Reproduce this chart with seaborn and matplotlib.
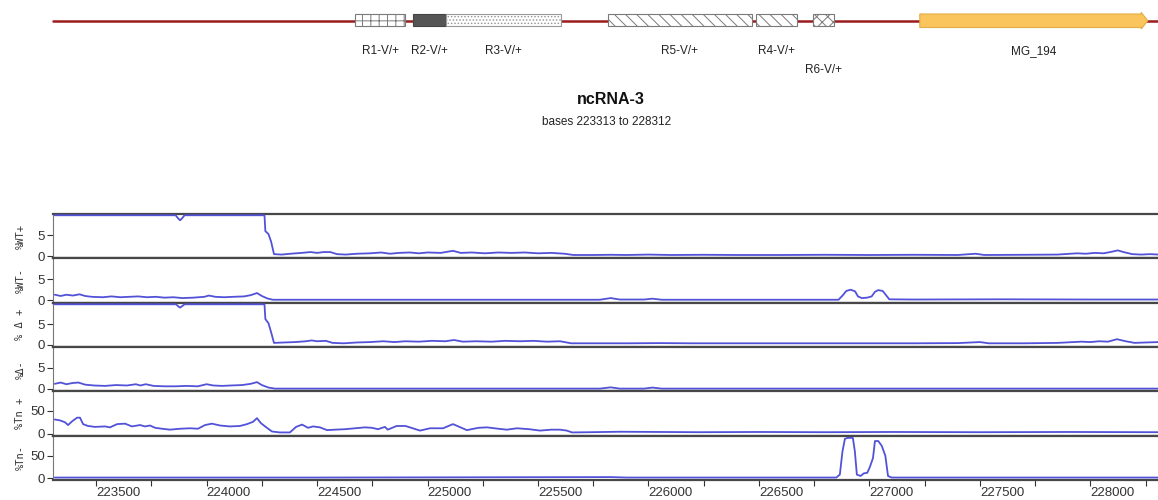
import numpy as np
import pandas as pd
import matplotlib
matplotlib.use("Agg")
import matplotlib.pyplot as plt
import matplotlib.patches as mpatches
import seaborn as sns

# genome window
x_start, x_end = 223313, 228312

# features on the map (start, end in bases)
feat_names = ["R1-V/+", "R2-V/+", "R3-V/+", "R5-V/+", "R4-V/+", "R6-V/+"]
feat_start = [224672, 224934, 225083, 225816, 226486, 226744]
feat_end = [224898, 225083, 225604, 226468, 226672, 226839]
gene_name = "MG_194"
gene_start, gene_end = 227228, 228260

# %WT+
wtp_pos = [223313, 223860, 223872, 223880, 223888, 223900, 224262, 224266, 224280, 224292,
           224305, 224340, 224380, 224430, 224470, 224500, 224530, 224560, 224590, 224630,
           224680, 224740, 224790, 224830, 224870, 224920, 224960, 225000, 225060, 225115,
           225150, 225200, 225260, 225320, 225380, 225440, 225500, 225560, 225620, 225660,
           225750, 225830, 225900, 226000, 226100, 226250, 226400, 226600, 226800, 227000,
           227200, 227400, 227480, 227520, 227700, 227850, 227940, 227980, 228020, 228060,
           228090, 228124, 228150, 228190, 228230, 228270, 228312]
wtp_val = [9.8, 9.8, 9.0, 8.6, 9.0, 9.8, 9.8, 6.0, 5.3, 3.5,
           0.5, 0.4, 0.6, 0.8, 1.0, 0.8, 1.0, 1.0, 0.5, 0.4,
           0.6, 0.7, 0.9, 0.6, 0.8, 0.9, 0.7, 0.9, 0.8, 1.3,
           0.8, 0.9, 0.7, 0.9, 0.8, 0.9, 0.7, 0.8, 0.6, 0.3,
           0.3, 0.35, 0.3, 0.4, 0.3, 0.35, 0.3, 0.3, 0.35, 0.3,
           0.35, 0.3, 0.6, 0.3, 0.35, 0.4, 0.7, 0.6, 0.8, 0.7,
           1.0, 1.4, 1.0, 0.5, 0.4, 0.5, 0.4]

# %WT-
wtm_pos = [223313, 223340, 223365, 223395, 223425, 223450, 223480, 223530, 223570, 223610,
           223650, 223690, 223730, 223770, 223810, 223850, 223890, 223940, 223990, 224010,
           224040, 224080, 224120, 224170, 224200, 224228, 224250, 224275, 224300, 225780,
           225829, 225870, 225980, 226018, 226060, 226860, 226880, 226895, 226915, 226935,
           226948, 226965, 226990, 227010, 227025, 227040, 227060, 227075, 227090, 227200,
           227600, 228000, 228312]
wtm_val = [1.3, 1.0, 1.3, 1.1, 1.4, 1.0, 0.8, 0.7, 0.9, 0.7,
           0.8, 0.9, 0.7, 0.8, 0.6, 0.7, 0.5, 0.6, 0.8, 1.1,
           0.8, 0.7, 0.8, 0.9, 1.2, 1.7, 1.0, 0.4, 0.1, 0.1,
           0.5, 0.15, 0.15, 0.35, 0.1, 0.1, 1.2, 2.2, 2.5, 2.1,
           0.9, 0.5, 0.6, 0.9, 2.0, 2.4, 2.2, 1.2, 0.2, 0.15,
           0.2, 0.15, 0.15]

# %Δ+
dp_pos = [223313, 223862, 223874, 223880, 223888, 223900, 224262, 224266, 224280, 224292,
          224305, 224350, 224400, 224450, 224475, 224500, 224540, 224570, 224620, 224680,
          224740, 224800, 224850, 224900, 224960, 225020, 225080, 225120, 225160, 225220,
          225290, 225350, 225420, 225480, 225540, 225600, 225650, 225750, 225900, 226050,
          226200, 226400, 226600, 226800, 227000, 227200, 227400, 227500, 227540, 227700,
          227850, 227960, 228000, 228040, 228080, 228120, 228160, 228200, 228250, 228312]
dp_val = [9.8, 9.8, 9.2, 9.0, 9.3, 9.8, 9.8, 6.2, 5.2, 3.0,
          0.4, 0.5, 0.6, 0.8, 1.0, 0.8, 0.9, 0.4, 0.3, 0.5,
          0.6, 0.8, 0.6, 0.8, 0.7, 0.9, 0.8, 1.1, 0.7, 0.8,
          0.7, 0.9, 0.8, 0.9, 0.7, 0.8, 0.3, 0.3, 0.3, 0.35,
          0.3, 0.3, 0.3, 0.3, 0.3, 0.3, 0.35, 0.6, 0.3, 0.3,
          0.4, 0.7, 0.6, 0.8, 0.7, 1.3, 0.8, 0.4, 0.5, 0.6]

# %Δ-
dm_pos = [223313, 223340, 223365, 223395, 223420, 223450, 223490, 223540, 223590, 223640,
          223680, 223700, 223725, 223760, 223810, 223860, 223910, 223960, 224000, 224030,
          224070, 224110, 224160, 224200, 224228, 224250, 224280, 224310, 225780, 225829,
          225870, 225980, 226018, 226060, 228312]
dm_val = [1.2, 1.5, 1.1, 1.4, 1.5, 1.0, 0.8, 0.7, 0.9, 0.8,
          1.1, 0.8, 1.1, 0.7, 0.6, 0.6, 0.7, 0.6, 1.1, 0.8,
          0.7, 0.8, 0.9, 1.2, 1.6, 0.9, 0.3, 0.05, 0.05, 0.35,
          0.05, 0.05, 0.3, 0.05, 0.05]

# %Tn+
tp_pos = [223313, 223337, 223359, 223373, 223391, 223414, 223427, 223441, 223463, 223495,
          223540, 223563, 223595, 223631, 223662, 223699, 223721, 223744, 223767, 223798,
          223834, 223880, 223925, 223961, 223993, 224024, 224061, 224106, 224151, 224183,
          224210, 224228, 224246, 224273, 224296, 224332, 224377, 224405, 224432, 224459,
          224482, 224513, 224545, 224581, 224626, 224672, 224717, 224748, 224776, 224807,
          224820, 224860, 224900, 224966, 225011, 225070, 225115, 225178, 225230, 225269,
          225320, 225359, 225405, 225460, 225509, 225560, 225599, 225630, 225654, 225735,
          225871, 226052, 226233, 226500, 226800, 227100, 227500, 227900, 228312]
tp_val = [31, 29, 25, 19, 27, 35, 35, 21, 17, 15,
          16, 14, 21, 22, 16, 19, 16, 18, 13, 11,
          9, 11, 12, 11, 19, 22, 18, 16, 17, 21,
          26, 34, 23, 13, 5, 3, 3, 15, 20, 13,
          16, 14, 8, 9, 10, 12, 14, 13, 10, 15,
          9, 17, 17, 7, 12, 12, 21, 8, 13, 14,
          11, 9, 12, 10, 7, 9, 9, 7, 3, 3.5,
          4.5, 4, 3.5, 4, 3.5, 4, 3.5, 4, 3.5]

# %Tn-
tm_pos = [223313, 223800, 224500, 225829, 225900, 226850, 226866, 226878, 226889, 226900,
          226925, 226934, 226943, 226960, 226975, 226990, 227002, 227016, 227025, 227040,
          227056, 227072, 227084, 227100, 228312]
tm_val = [1.5, 1.5, 1.5, 2.5, 1.5, 1.5, 8, 60, 88, 90,
          90, 60, 8, 5, 11, 12, 25, 45, 83, 83,
          72, 50, 5, 1.5, 1.5]

track_labels = ["%WT+", "%WT-", "% \u0394 +", "%\u0394-", "%Tn +", "%Tn-"]
track_pos = [wtp_pos, wtm_pos, dp_pos, dm_pos, tp_pos, tm_pos]
track_val = [wtp_val, wtm_val, dp_val, dm_val, tp_val, tm_val]
track_ylim = [(-0.5, 10.1), (-0.6, 10.0), (-0.6, 10.2), (-0.6, 10.0), (-4, 92), (-4, 95)]
track_ticks = [[0, 5], [0, 5], [0, 5], [0, 5], [0, 50], [0, 50]]

sns.set_style("white")
plt.rcParams['font.family'] = ['Liberation Sans', 'DejaVu Sans']
plt.rcParams['hatch.linewidth'] = 0.7

line_col = "#5252d8"
sep_col = "#474747"

fig, axes = plt.subplots(6, 1, figsize=(11.58, 5.0), dpi=100, sharex=True)
fig.subplots_adjust(left=0.0458, right=1.0, top=0.572, bottom=0.04, hspace=0)

for ax, lab, p, v, yl, yt in zip(axes, track_labels, track_pos, track_val, track_ylim, track_ticks):
    df = pd.DataFrame({"pos": p, "val": v})
    sns.lineplot(data=df, x="pos", y="val", ax=ax, color=line_col, linewidth=1.3, zorder=3)
    ax.set_ylim(*yl)
    ax.set_xlim(x_start - 8, x_end - 6)
    ax.set_yticks(yt)
    ax.tick_params(axis='y', direction='out', length=4, width=0.8, colors="#333333",
                   labelsize=9.5, pad=2, left=True)
    ax.set_ylabel(lab, family='DejaVu Sans Mono', fontsize=7.5, color="#333333")
    ax.yaxis.set_label_coords(-0.025, 0.5)
    ax.set_xlabel("")
    for s in ["top", "bottom"]:
        ax.spines[s].set_visible(True)
        ax.spines[s].set_color(sep_col)
        ax.spines[s].set_linewidth(1.6)
    ax.spines["left"].set_color("#777777")
    ax.spines["left"].set_linewidth(0.8)
    ax.spines["right"].set_visible(False)

bx = axes[-1]
bx.set_xticks(np.arange(223500, 228001, 500))
bx.set_xticks(np.arange(223750, 228300, 500), minor=True)
bx.tick_params(axis='x', which='both', direction='out', length=4, width=0.8,
               colors="#333333", labelsize=9.5, pad=1, bottom=True)
for t in bx.xaxis.get_majorticklabels():
    t.set_horizontalalignment('left')

# gene map, y in pixel rows from the top
mx = fig.add_axes([0.0458, 0.84, 1 - 0.0458, 0.16])
mx.set_xlim(x_start - 8, x_end - 6)
mx.set_ylim(80, 0)
mx.axis('off')
mx.plot([x_start - 8, x_end], [20.7, 20.7], color="#9b1c1c", linewidth=1.8, zorder=1, clip_on=False)

hatches = ['++', None, '.....', '\\\\\\', '\\\\\\', 'xxx']
faces = ['white', '#555555', 'white', 'white', 'white', 'white']
edges = ['#7a7a7a', '#444444', '#9a9a9a', '#7a7a7a', '#7a7a7a', '#7a7a7a']
for name, s, e, h, fc, ec in zip(feat_names, feat_start, feat_end, hatches, faces, edges):
    r = mpatches.Rectangle((s, 14), e - s, 12, facecolor=fc, edgecolor=ec, hatch=h,
                           linewidth=0.8, zorder=2)
    mx.add_patch(r)
for name, s, e in zip(feat_names, feat_start, feat_end):
    ty = 70 if name == "R6-V/+" else 51
    mx.text((s + e) / 2, ty, name, ha='center', va='center', fontsize=8.5, color="#222222")

head = 30
arrow = mpatches.Polygon([[gene_start, 14], [gene_end - head, 14], [gene_end - head, 12.5],
                          [gene_end, 20.7], [gene_end - head, 29], [gene_end - head, 27.5],
                          [gene_start, 27.5]], closed=True, facecolor="#f9c55c",
                         edgecolor="#e3ac45", linewidth=0.8, zorder=3)
mx.add_patch(arrow)
mx.text((gene_start + gene_end) / 2, 51, gene_name, ha='center', va='center',
        fontsize=8.5, color="#222222")

fig.text(611 / 1158, 1 - 99 / 500, "ncRNA-3", ha='center', va='center',
         fontsize=11.5, fontweight='bold', color="#111111")
fig.text(607 / 1158, 1 - 122 / 500, "bases 223313 to 228312", ha='center', va='center',
         fontsize=8.5, color="#222222")

fig.savefig("out.png", dpi=100)
